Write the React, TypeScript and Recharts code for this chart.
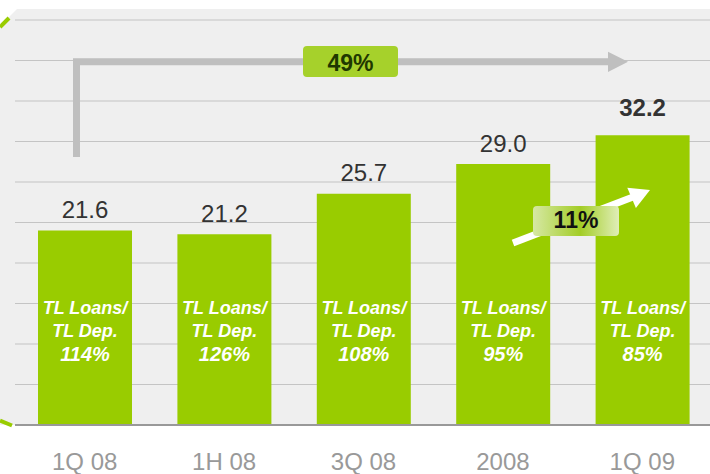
import React from 'react';
import { BarChart, Bar, XAxis, YAxis, CartesianGrid, LabelList } from 'recharts';

const categories = ['1Q 08', '1H 08', '3Q 08', '2008', '1Q 09'];
const balances = [21.6, 21.2, 25.7, 29.0, 32.2];
const loanDepRatios = ['114%', '126%', '108%', '95%', '85%'];
const yTicks = [0, 4.5, 9, 13.5, 18, 22.5, 27, 31.5, 36, 40.5, 45];

const chartData = categories.map((c, i) => ({ label: c, value: balances[i], ratio: loanDepRatios[i] }));

const FONT = '"Liberation Sans", Arial, Helvetica, sans-serif';
const GREEN = '#99CC00';

function ValueLabel(props: any) {
  const { x, y, width, index } = props;
  const last = index === balances.length - 1;
  return (
    <text
      x={x + width / 2}
      y={y - (last ? 19 : 12.5)}
      textAnchor="middle"
      fontFamily={FONT}
      fontSize={24}
      fontWeight={last ? 'bold' : 'normal'}
      fill="#333333"
    >
      {balances[index].toFixed(1)}
    </text>
  );
}

function RatioLabel(props: any) {
  const { x, y, width, height, index } = props;
  const cx = x + width / 2;
  const bottom = y + height;
  const common = { x: cx, textAnchor: 'middle' as const, fontFamily: FONT, fontWeight: 'bold', fontStyle: 'italic', fill: '#ffffff' };
  return (
    <g>
      <text {...common} y={bottom - 111} fontSize={18}>TL Loans/</text>
      <text {...common} y={bottom - 88} fontSize={18}>TL Dep.</text>
      <text {...common} y={bottom - 64} fontSize={20}>{loanDepRatios[index]}</text>
    </g>
  );
}

// grey panel with cut corner and the green ring pieces behind the chart
function Backdrop() {
  return (
    <svg width={710} height={474} style={{ position: 'absolute', left: 0, top: 0 }}>
      <polygon points="0,26 17,9 710,9 710,425 0,425" fill="#efefef" />
      <line x1={0} y1={27} x2={9} y2={18} stroke={GREEN} strokeWidth={4} />
      <line x1={0} y1={420.5} x2={12} y2={425.5} stroke={GREEN} strokeWidth={4} />
    </svg>
  );
}

// growth arrows drawn above the bars
function Annotations() {
  return (
    <svg width={710} height={474} style={{ position: 'absolute', left: 0, top: 0 }}>
      <defs>
        <linearGradient id="pillGrad" x1="0" y1="0" x2="1" y2="0">
          <stop offset="0" stopColor="#d6e8a4" />
          <stop offset="0.55" stopColor="#a3cd26" />
          <stop offset="1" stopColor="#e0eeb8" />
        </linearGradient>
      </defs>
      <polyline points="76.5,157 76.5,61.7 612,61.7" fill="none" stroke="#bfbfbf" strokeWidth={7} />
      <polygon points="608,51.7 628,61.7 608,72" fill="#bfbfbf" />
      <rect x={303} y={46} width={95} height={31} rx={4} fill="#a6d12b" />
      <text x={350.5} y={71} textAnchor="middle" fontFamily={FONT} fontSize={23} fontWeight="bold" fill="#1f3800">
        49%
      </text>

      <line x1={513} y1={243} x2={633} y2={197} stroke="#ffffff" strokeWidth={7} />
      <polygon points="650,190 635.9,207.9 627.3,187.7" fill="#ffffff" />
      <rect x={533} y={206} width={86} height={30} rx={4} fill="url(#pillGrad)" />
      <text x={576} y={228} textAnchor="middle" fontFamily={FONT} fontSize={23} fontWeight="bold" fill="#111111">
        11%
      </text>
    </svg>
  );
}

export default function App() {
  return (
    <div style={{ position: 'absolute', left: 0, top: 0, width: 710, height: 474, overflow: 'hidden', background: '#ffffff' }}>
      <Backdrop />
      <div style={{ position: 'absolute', left: 0, top: 0 }}>
        <BarChart width={712} height={474} data={chartData} margin={{ top: 20, right: 0, left: 15, bottom: 0 }}>
          <CartesianGrid vertical={false} stroke="#c4c4c4" strokeWidth={1.2} />
          <XAxis
            dataKey="label"
            height={49}
            tickLine={false}
            tickSize={0}
            tickMargin={28}
            axisLine={{ stroke: '#999999', strokeWidth: 2 }}
            tick={{ fontSize: 24, fill: '#999999', fontFamily: FONT }}
          />
          <YAxis hide domain={[0, 45]} ticks={yTicks} />
          <Bar dataKey="value" fill={GREEN} barSize={94} isAnimationActive={false}>
            <LabelList dataKey="value" content={<ValueLabel />} />
            <LabelList dataKey="ratio" content={<RatioLabel />} />
          </Bar>
        </BarChart>
      </div>
      <Annotations />
    </div>
  );
}
